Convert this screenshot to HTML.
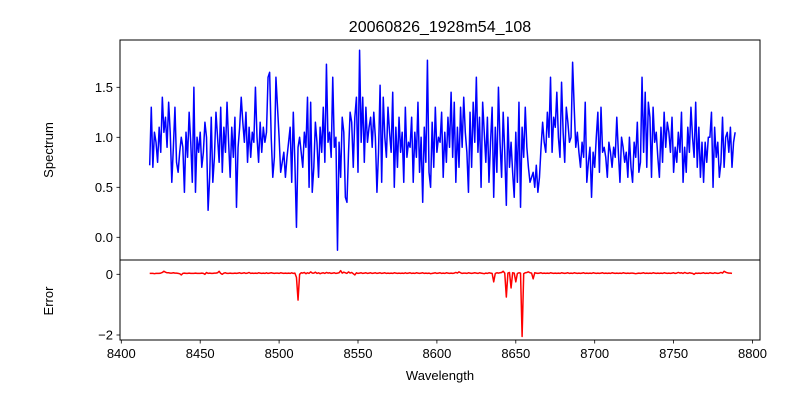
<!DOCTYPE html>
<html><head><meta charset="utf-8">
<style>
body{margin:0;background:#fff;}
svg text{font-family:"Liberation Sans","DejaVu Sans",sans-serif;fill:#000;}
</style></head>
<body>
<svg id="chart" width="800" height="400" xmlns="http://www.w3.org/2000/svg">
<rect width="800" height="400" fill="#fff"/>
<text x="440" y="32" font-size="16" text-anchor="middle">20060826_1928m54_108</text>
<g id="gtop"></g><g id="gbot"></g>
<text transform="translate(53,150) rotate(-90)" font-size="13" text-anchor="middle">Spectrum</text>
<text transform="translate(53,301) rotate(-90)" font-size="13" text-anchor="middle">Error</text>
<text x="440" y="380" font-size="13" text-anchor="middle">Wavelength</text>
</svg>
<script>
const startWl = 8418;
const spectrum = [
0.72,1.30,0.70,1.05,0.95,0.75,1.10,0.85,1.40,1.05,1.20,0.90,1.35,1.05,0.55,0.90,1.30,0.75,0.65,0.85,
1.00,0.90,0.45,1.05,
0.80,1.25,0.95,0.55,1.50,0.45,1.00,0.85,1.05,0.70,0.85,1.15,1.00,0.27,0.60,1.20,0.55,0.80,1.25,1.00,
0.75,1.30,0.65,1.10,0.85,1.35,0.95,0.60,1.10,0.80,1.20,0.30,0.90,1.10,1.40,1.15,0.95,1.25,0.75,1.10,
0.80,1.05,0.95,1.50,1.00,0.75,1.15,0.85,1.10,0.95,1.05,1.60,1.65,1.00,0.60,0.80,1.60,1.30,1.00,0.65,
0.75,0.85,0.60,0.80,0.95,1.10,0.55,1.25,0.75,0.10,0.90,1.00,0.85,0.70,1.05,0.90,1.40,0.50,1.35,0.45,
0.70,1.15,0.95,0.60,1.10,0.85,1.30,0.75,1.73,0.95,1.05,0.80,1.60,0.90,1.00,-0.13,0.95,0.60,1.20,1.05,0.40,
0.35,0.85,1.25,1.15,0.70,1.20,1.40,0.65,1.87,0.95,1.40,0.75,1.30,0.95,1.10,1.20,0.90,1.25,1.00,0.45,
0.85,1.52,0.55,1.40,1.00,0.80,1.30,1.05,0.85,1.45,0.50,1.10,0.70,1.20,0.85,1.05,0.55,1.30,0.80,0.95,
0.90,1.20,0.55,1.05,0.80,1.35,0.65,1.00,
0.35,1.10,0.75,1.77,0.65,0.50,1.15,0.70,1.30,0.85,1.00,0.95,1.25,0.60,1.05,0.75,1.20,0.90,1.45,0.80,
1.35,0.55,1.10,0.70,1.30,0.90,1.40,1.05,0.85,0.45,1.25,0.70,1.35,0.95,1.60,0.85,1.20,0.50,1.35,1.05,
0.75,1.20,0.55,0.95,1.30,0.40,1.10,0.65,1.50,0.95,0.60,1.25,0.85,0.32,1.20,0.70,0.95,0.65,0.40,1.05,
0.55,1.35,0.30,1.10,0.80,1.30,0.90,0.70,0.55,0.60,0.65,0.50,0.72,0.45,0.60,0.90,1.15,0.95,0.85,1.25,
1.00,1.60,0.85,1.20,1.10,1.45,1.00,0.80,1.55,1.05,0.75,1.30,1.15,0.95,1.00,1.75,1.30,0.90,1.05,0.85,
0.70,0.95,0.80,1.35,0.55,0.75,0.90,0.40,0.85,0.70,1.00,1.25,0.65,1.30,0.85,0.90,0.80,0.60,0.95,0.85,
0.70,0.90,0.80,1.20,0.85,0.55,1.00,0.90,0.75,0.85,0.60,1.00,0.70,0.55,0.95,0.80,1.15,0.65,0.75,1.60,
0.85,1.45,0.70,1.35,1.20,0.60,1.30,0.95,1.05,0.80,0.60,1.10,0.75,1.25,0.90,1.15,1.05,0.85,1.20,0.65,
0.90,0.75,1.05,0.85,1.25,0.55,0.90,0.65,1.10,0.85,1.30,1.00,0.80,1.35,0.70,1.10,0.60,0.95,0.55,0.95,
0.75,1.00,1.00,1.25,0.50,1.10,0.80,0.95,0.60,0.75,1.20,0.70,1.00,1.05,
0.85,1.10,0.70,0.95,1.05
];
const errors = [
0.03,0.03,0.03,0.02,0.03,0.03,0.03,0.04,0.06,0.10,0.07,0.05,0.05,0.04,0.04,0.05,0.04,0.04,0.03,0.02,
-0.02,0.03,0.04,0.03,0.03,0.04,0.03,0.03,0.03,0.04,0.03,0.03,0.03,0.04,0.03,0.00,0.06,0.03,0.04,0.03,
0.03,0.04,0.04,0.05,0.10,0.03,0.00,0.04,0.05,0.03,0.03,0.04,0.03,0.03,0.04,0.03,0.04,0.05,0.03,0.04,
0.05,0.03,0.04,0.06,0.03,0.04,0.03,0.04,0.03,0.05,0.04,0.03,0.04,0.03,0.05,0.03,0.04,0.05,0.04,0.03,
0.04,0.04,0.03,0.05,0.04,0.03,0.04,0.03,0.04,0.03,0.05,0.03,0.04,-0.10,-0.85,0.00,0.05,0.04,0.06,0.02,
0.05,0.03,0.08,0.04,0.04,0.07,0.03,0.05,0.02,0.04,0.05,0.03,0.06,0.04,0.05,0.03,0.04,0.05,0.03,0.04,
0.05,0.12,0.04,0.07,0.05,0.03,0.08,0.04,0.06,0.02,-0.02,0.05,0.03,0.04,0.05,0.03,0.04,0.05,0.03,0.04,
0.05,0.03,0.04,0.05,0.03,0.04,0.05,0.03,0.04,0.05,0.03,0.04,0.03,0.04,0.03,0.05,0.04,0.03,0.04,0.03,
0.04,0.03,0.05,0.03,0.04,0.05,0.03,0.04,0.03,0.05,0.04,0.03,0.04,0.05,0.03,0.04,0.03,0.04,0.02,0.03,
0.04,0.05,0.03,0.04,0.05,0.03,0.04,0.03,0.05,0.04,0.03,0.04,0.03,0.04,0.06,0.04,0.08,0.05,0.03,0.04,
0.04,0.03,0.05,0.04,0.03,0.04,
0.05,0.04,0.03,0.05,0.04,0.03,0.02,0.04,0.03,0.05,0.04,0.03,-0.25,0.03,0.05,0.04,0.05,0.06,0.10,0.04,
-0.75,0.04,0.06,-0.45,0.05,0.04,-0.25,0.03,0.05,0.04,-2.05,0.02,0.05,0.06,0.08,0.05,0.04,-0.15,0.05,0.04,
0.03,0.04,0.05,0.03,0.04,0.03,0.04,0.03,0.05,0.04,0.03,0.04,0.03,0.04,0.03,0.05,0.04,0.03,0.04,0.05,
0.03,0.04,0.03,0.05,0.04,0.03,0.04,0.03,0.04,0.05,0.03,0.04,0.03,0.04,0.03,0.05,0.04,0.03,0.04,0.03,
0.04,0.05,0.03,0.04,0.03,0.04,0.03,0.05,0.04,0.03,0.04,0.03,0.04,0.03,0.05,0.04,0.03,0.04,0.03,0.04,
0.04,0.03,0.02,0.03,0.04,0.03,0.04,0.05,0.03,0.04,0.03,0.04,0.03,0.05,0.04,0.03,0.04,0.03,0.04,0.03,
0.05,0.04,0.03,0.04,0.03,0.04,0.05,0.03,0.04,0.06,0.04,0.05,0.03,0.06,0.04,0.03,0.05,0.04,0.03,0.00,
0.04,0.03,0.04,0.03,0.04,0.05,0.03,0.04,0.03,0.05,0.04,0.03,0.05,0.04,0.03,0.04,0.06,0.04,0.10,0.07,
0.05,0.04,0.04,0.03
];
const xTicks = [8400,8450,8500,8550,8600,8650,8700,8750,8800];
const yTicksTop = [0.0,0.5,1.0,1.5];
const yTicksBot = [0,-2];

const L=120,R=760;
const xScale = w => 121.3 + (w-8400)*1.578;
const yTopScale = v => 237.3 - v*100;
const yBotScale = v => 274.3 - v*30.35;
const NS='http://www.w3.org/2000/svg';
function mk(tag,attrs,parent){const e=document.createElementNS(NS,tag);for(const k in attrs)e.setAttribute(k,attrs[k]);parent.appendChild(e);return e;}
const gTop=document.getElementById('gtop'), gBot=document.getElementById('gbot');

function panel(g,y0,y1,Y,ticks,fmt,line,color,name,showX){
  let pts=line.map((v,i)=>xScale(startWl+i).toFixed(2)+','+Y(v).toFixed(2)).join(' ');
  const pl=mk('polyline',{points:pts,fill:'none',stroke:color,'stroke-width':1.5,'stroke-linejoin':'round'},g);
  
  
  const fr=mk('rect',{x:L,y:y0,width:R-L,height:y1-y0,fill:'none',stroke:'#000','stroke-width':1},g);
  
  
  ticks.forEach(t=>{
    const y=Y(t);
    mk('line',{x1:L-3.5,x2:L,y1:y,y2:y,stroke:'#000','stroke-width':0.8},g);
    const tx=mk('text',{x:L-7,y:y+4.5,'font-size':13,'text-anchor':'end'},g);
    tx.textContent=fmt(t);
    
    
  });
  if(showX){xTicks.forEach(t=>{
    const x=xScale(t);
    mk('line',{x1:x,x2:x,y1:y1,y2:y1+3.5,stroke:'#000','stroke-width':0.8},g);
    const tx=mk('text',{x:x,y:y1+18,'font-size':13,'text-anchor':'middle'},g);
    tx.textContent=t;
    
    
  });}
}
panel(gTop,40,260,yTopScale,yTicksTop,t=>t.toFixed(1),spectrum,'#0000ff','spectrum-line',false);
panel(gBot,260,340,yBotScale,yTicksBot,t=>t<0?'\u2212'+Math.abs(t):String(t),errors,'#ff0000','error-line',true);
</script>
</body></html>
